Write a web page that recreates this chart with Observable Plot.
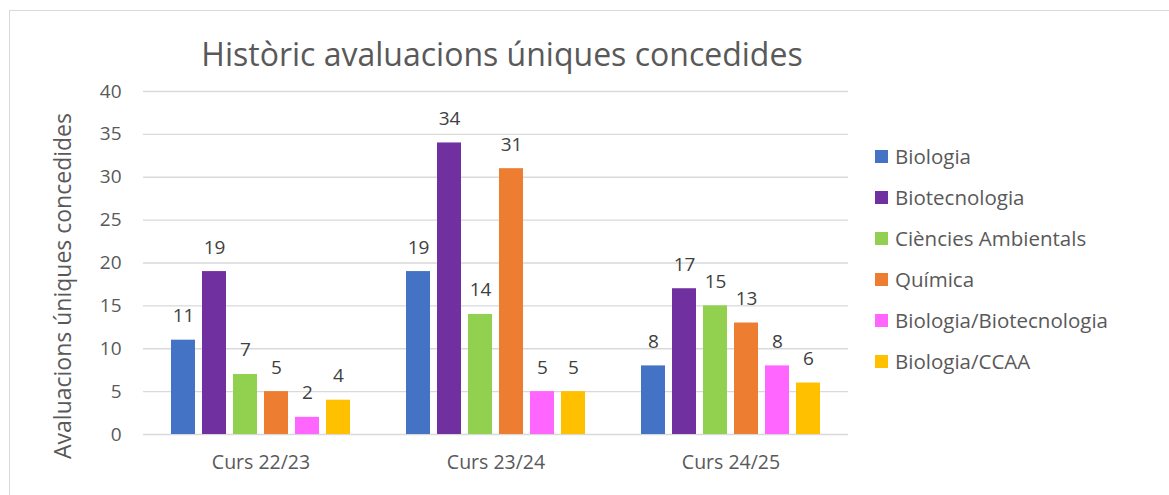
<!DOCTYPE html>
<html>
<head>
<meta charset="utf-8">
<script src="https://cdn.jsdelivr.net/npm/d3@7"></script>
<script src="https://cdn.jsdelivr.net/npm/@observablehq/plot@0.6"></script>
<style>
  html, body { margin: 0; padding: 0; background: #fff; }
  body { width: 1169px; height: 495px; position: relative; overflow: hidden; font-family: "Open Sans", sans-serif; color: #595959; }
  #frame { position: absolute; left: 9px; top: 10px; width: 1200px; height: 520px; border: 1px solid #d9d9d9; box-sizing: border-box; }
  #chart { position: absolute; left: 0; top: 0; }
  #title { position: absolute; left: 0; width: 1004px; top: 34px; text-align: center; font-size: 32px; line-height: 40px; white-space: nowrap; }
  #ylabel { position: absolute; left: 62px; top: 286px; transform: translate(-50%, -50%) rotate(-90deg); font-size: 23px; white-space: nowrap; }
  #legend { position: absolute; left: 875px; top: 0; }
  .item { position: absolute; left: 0; height: 24px; display: flex; align-items: center; white-space: nowrap; font-size: 20.5px; }
  .sw { width: 13px; height: 13px; margin-right: 7px; }
</style>
</head>
<body>
<div id="frame"></div>
<div id="chart"></div>
<div id="title">Històric avaluacions úniques concedides</div>
<div id="ylabel">Avaluacions úniques concedides</div>
<div id="legend"></div>
<script>
const courses = ["Curs 22/23", "Curs 23/24", "Curs 24/25"];
const series = ["Biologia", "Biotecnologia", "Ciències Ambientals", "Química", "Biologia/Biotecnologia", "Biologia/CCAA"];
const colors = ["#4472C4", "#7030A0", "#92D050", "#ED7D31", "#FF66FF", "#FFC000"];
const biologia = [11, 19, 8];
const biotecnologia = [19, 34, 17];
const cienciesAmbientals = [7, 14, 15];
const quimica = [5, 31, 13];
const bioBiotec = [2, 5, 8];
const bioCCAA = [4, 5, 6];
const yTicks = [0, 5, 10, 15, 20, 25, 30, 35, 40];

const values = [biologia, biotecnologia, cienciesAmbientals, quimica, bioBiotec, bioCCAA];
const data = [];
courses.forEach((c, i) => series.forEach((s, j) => data.push({course: c, series: s, value: values[j][i]})));

const plot = Plot.plot({
  width: 1169,
  height: 495,
  marginLeft: 143,
  marginRight: 321,
  marginTop: 91,
  marginBottom: 61,
  style: {fontFamily: "'Open Sans', sans-serif", color: "#595959", background: "transparent"},
  fx: {domain: courses, padding: 0, label: null},
  x: {domain: series, axis: null, paddingInner: 0.23, paddingOuter: 0.88},
  y: {domain: [0, 40], axis: null},
  color: {domain: series, range: colors},
  marks: [
    Plot.ruleY(yTicks, {stroke: "#d9d9d9", strokeWidth: 1.3}),
    Plot.barY(data, {fx: "course", x: "series", y: "value", fill: "series"}),
    Plot.text(data, {fx: "course", x: "series", y: "value", text: d => String(d.value), lineAnchor: "bottom", dy: -18, fontSize: 19, fill: "#404040"}),
    Plot.axisY({ticks: yTicks, tickSize: 0, tickPadding: 22, fontSize: 19, label: null}),
    Plot.axisFx({anchor: "bottom", tickSize: 0, tickPadding: 21, fontSize: 19.5, label: null})
  ]
});
document.getElementById("chart").appendChild(plot);

const legend = document.getElementById("legend");
series.forEach((s, i) => {
  const row = document.createElement("div");
  row.className = "item";
  row.style.top = (144 + i * 41) + "px";
  const sw = document.createElement("span");
  sw.className = "sw";
  sw.style.background = colors[i];
  const t = document.createElement("span");
  t.textContent = s;
  row.appendChild(sw); row.appendChild(t);
  legend.appendChild(row);
});
</script>
</body>
</html>
